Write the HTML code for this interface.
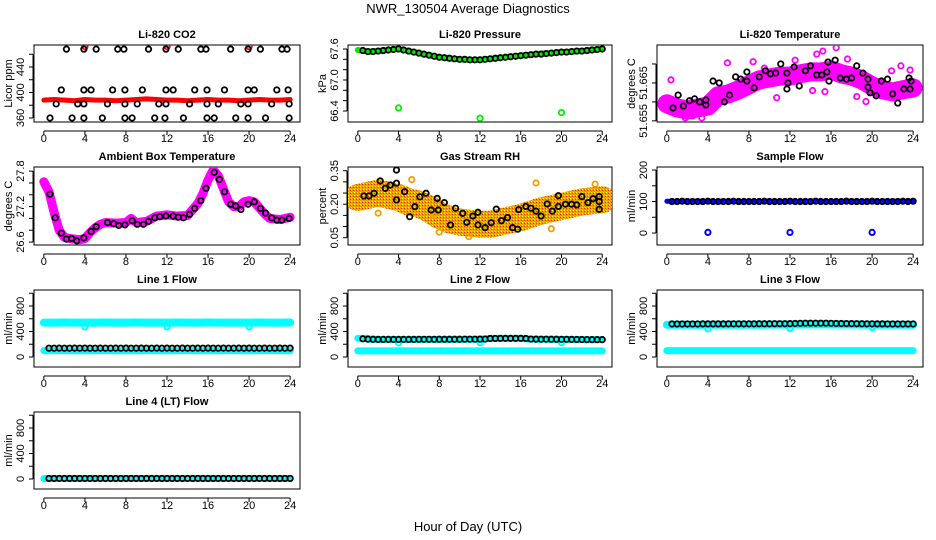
<!DOCTYPE html>
<html><head><meta charset="utf-8"><style>
html,body{margin:0;padding:0;background:#fff;}
svg{display:block;font-family:"Liberation Sans",sans-serif;}
</style></head><body>
<svg id="chart" width="936" height="540" viewBox="0 0 936 540" xmlns="http://www.w3.org/2000/svg">
<defs>
<pattern id="rhpat" width="3" height="3" patternUnits="userSpaceOnUse">
<rect width="3" height="3" fill="#f0a000"/><rect x="0" y="0" width="1" height="1" fill="#ffff00"/><rect x="2" y="1" width="1" height="1" fill="#e03000"/>
</pattern>
</defs>
<rect width="936" height="540" fill="#fff"/>
<text x="468" y="13" text-anchor="middle" font-size="13">NWR_130504  Average Diagnostics</text>
<text x="468" y="531" text-anchor="middle" font-size="13">Hour of Day (UTC)</text>
</svg>
<script>
// ---- data ----
const H25=[0,1,2,3,4,5,6,7,8,9,10,11,12,13,14,15,16,17,18,19,20,21,22,23,24];
const H48=[0.5,1,1.5,2,2.5,3,3.5,4,4.5,5,5.5,6,6.5,7,7.5,8,8.5,9,9.5,10,10.5,11,11.5,12,12.5,13,13.5,14,14.5,15,15.5,16,16.5,17,17.5,18,18.5,19,19.5,20,20.5,21,21.5,22,22.5,23,23.5,24];
const DIP_HOURS=[4,12,20];

// CO2
const co2Red=[388,389,388,387,389,388,388,387,388,389,390,389,388,388,387,388,389,388,388,387,388,389,388,388,389];
const co2RedTop=[472,472,472];
const co2BlackHours=[2.2,3.9,5.1,7.2,7.8,10.2,11.9,13.1,15.3,15.8,18.2,19.9,21.1,23.2,23.7,1.7,3.9,4.6,6.7,7.9,9.6,11.9,12.6,14.7,15.9,17.6,19.9,20.5,22.7,23.8,1.2,3.3,3.9,6.2,7.9,9.1,11.2,11.9,14.2,15.9,17.0,19.2,19.9,22.2,23.9,0.6,2.75,3.9,5.7,7.9,8.6,10.8,11.8,13.6,15.9,16.6,18.7,19.9,21.6,23.9];
const co2Black=[468,468,468,468,468,468,468,468,468,468,468,468,468,468,468,404,404,404,404,404,404,404,404,404,404,404,404,404,404,404,382,382,382,382,382,382,382,382,382,382,382,382,382,382,382,360,360,360,360,360,360,360,360,360,360,360,360,360,360,360];

// Pressure
const presGreen=[67.58,67.55,67.56,67.58,67.60,67.56,67.52,67.48,67.44,67.42,67.40,67.39,67.39,67.41,67.43,67.45,67.47,67.49,67.51,67.52,67.54,67.55,67.56,67.58,67.60];
const presBlack=[67.57,67.55,67.55,67.56,67.57,67.58,67.59,67.60,67.58,67.56,67.54,67.52,67.50,67.48,67.46,67.44,67.43,67.42,67.41,67.40,67.40,67.39,67.39,67.39,67.40,67.41,67.42,67.43,67.44,67.45,67.46,67.47,67.48,67.49,67.50,67.50,67.51,67.52,67.53,67.54,67.54,67.55,67.56,67.56,67.57,67.58,67.59,67.60];
const presGreenOut=[66.46,66.26,66.37];

// Li-820 temperature
const ltMag=[51.6595,51.6584,51.6579,51.6584,51.6589,51.6616,51.6621,51.6632,51.6645,51.6658,51.6663,51.6668,51.6668,51.6674,51.6679,51.6679,51.6684,51.6674,51.6668,51.6658,51.6642,51.6632,51.6626,51.6632,51.6637];
const ltOutHours=[5.9,8.4,10.7,14.2,15.4,15.2,16.5,14.6,17.6,19.4,18.5,22.8,23.7,1.8,3.4,0.4,21.9,2.5,0.8,12.5,9.5];
const ltOut=[51.6703,51.6706,51.6611,51.6630,51.6627,51.6734,51.6743,51.6726,51.6713,51.6601,51.6614,51.6695,51.6684,51.6558,51.6558,51.6658,51.6682,51.6563,51.6574,51.6710,51.6689];
const ltBlackHours=[0.6,1.1,1.6,2.2,2.7,3.2,3.8,3.8,4.5,5.1,5.6,6.1,6.7,7.2,7.8,7.8,8.5,9.0,9.6,10.1,10.6,11.1,11.7,11.7,11.8,12.4,12.9,13.5,14.0,14.6,15.1,15.6,15.7,15.8,16.4,16.9,17.5,18.0,18.5,19.1,19.6,19.6,19.8,20.4,20.9,21.5,22.0,22.5,23.1,23.6,23.7,23.8];
const ltBlack=[51.6584,51.6618,51.6589,51.6603,51.6608,51.6600,51.6605,51.6592,51.6655,51.6650,51.6600,51.6618,51.6666,51.6660,51.6679,51.6655,51.6637,51.6666,51.6682,51.6674,51.6676,51.6700,51.6676,51.6634,51.6650,51.6692,51.6642,51.6682,51.6695,51.6671,51.6671,51.6679,51.6705,51.6655,51.6710,51.6663,51.6660,51.6663,51.6695,51.6676,51.6660,51.6639,51.6624,51.6616,51.6655,51.6660,51.6621,51.6597,51.6634,51.6663,51.6634,51.6655];

// Ambient box temperature
const abMagHours=[0,0.5,1,1.5,2,2.5,3,3.5,4,4.5,5,5.5,6,7,8,8.5,9,10,11,12,13,14,14.5,15,15.5,16,16.5,17,17.5,18,18.5,19,19.5,20,20.5,21,21.5,22,23,24];
const abMag=[27.62,27.45,27.10,26.80,26.68,26.66,26.65,26.64,26.66,26.76,26.84,26.90,26.93,26.92,26.93,27.00,26.93,26.95,27.04,27.06,27.04,27.05,27.15,27.25,27.42,27.65,27.82,27.72,27.50,27.28,27.20,27.20,27.28,27.30,27.28,27.18,27.08,27.00,26.98,27.02];
const abBlackHours=[0.6,1.1,1.7,2.2,2.7,3.2,3.9,4.6,5.1,6.2,6.8,7.3,7.9,8.6,9.1,9.7,10.2,10.8,11.3,11.9,12.6,13.1,13.6,14.2,14.7,15.3,15.8,16.6,17.1,17.6,18.2,18.7,19.2,19.9,20.5,21.1,21.6,22.2,22.7,23.2,23.9];
const abBlack=[27.41,27.01,26.75,26.65,26.66,26.62,26.67,26.78,26.86,26.93,26.91,26.88,26.89,26.96,26.90,26.90,26.95,27.01,27.03,27.04,27.04,27.02,27.01,27.07,27.17,27.30,27.51,27.78,27.66,27.45,27.24,27.21,27.15,27.24,27.28,27.17,27.09,27.01,26.97,26.97,27.00];

// Gas stream RH
const rhBandHours=[0,1,2,3,4,5,6,7,8,9,10,11,12,13,14,15,16,17,18,19,20,21,22,23,24];
const rhBand=[0.23,0.24,0.25,0.24,0.23,0.21,0.20,0.18,0.15,0.13,0.12,0.115,0.11,0.11,0.12,0.13,0.14,0.155,0.17,0.18,0.19,0.20,0.21,0.215,0.22];
const rhBlackHours=[0.6,1.1,1.6,2.2,2.7,3.2,3.8,3.8,3.8,4.6,5.1,5.6,6.1,6.7,7.2,7.8,7.9,8.5,9.1,9.6,10.3,10.7,11.3,11.8,11.8,12.5,13.1,13.6,14.1,14.7,15.2,15.7,15.8,16.5,17.0,17.5,18.0,18.6,19.1,19.7,19.7,20.4,21.0,21.5,22.0,22.6,23.1,23.7,23.7,23.7];
const rhBlack=[0.237,0.237,0.249,0.304,0.271,0.286,0.353,0.294,0.219,0.256,0.144,0.189,0.233,0.249,0.174,0.226,0.174,0.207,0.107,0.182,0.159,0.119,0.147,0.164,0.107,0.095,0.117,0.178,0.126,0.140,0.095,0.088,0.176,0.190,0.182,0.169,0.147,0.201,0.169,0.190,0.238,0.200,0.200,0.197,0.234,0.207,0.225,0.177,0.234,0.212];
const rhOutHours=[5.3,7.5,19.0,17.5,23.3,8.0,10.9,2.0];
const rhOut=[0.31,0.15,0.09,0.295,0.29,0.075,0.055,0.16];

// Sample flow
const sfBlue=[101,100,100,101,100,100,101,100,100,100,101,100,100,100,101,100,100,100,101,100,100,100,101,100,101];
const sfBlack=[100,100,101,100,100,100,100,101,100,100,100,100,101,100,100,100,100,100,101,100,100,100,100,101,100,100,100,100,101,100,100,100,100,100,101,100,100,100,100,101,100,100,100,100,100,101,100,101];
const sfBlueOut=[2,2,2];

// Line flows
const l1Top=[540,540,541,540,539,540,541,540,540,541,540,539,540,541,540,540,541,540,540,539,540,541,540,540,541];
const l1Low=[100,100,101,100,100,100,101,100,100,100,101,100,100,100,101,100,100,100,101,100,100,100,101,100,100];
const l1Dip=[470,470,470];
const l1Black=[138,138,139,138,138,139,138,139,138,138,139,138,138,139,138,139,138,138,139,138,138,139,138,139,138,138,139,138,138,139,138,139,138,138,139,138,138,139,138,139,138,138,139,138,138,139,138,139];

const l2TopHours=[0,0.5,1,1.2,2,3,4,5,6,7,8,9,10,11,12,13,14,15,16,17,18,19,20,21,22,23,24];
const l2Top=[292,292,292,280,276,276,275,276,276,276,277,277,278,278,280,290,292,292,292,280,278,278,276,274,272,272,272];
const l2Low=[95,95,95,95,95,95,95,95,95,95,95,95,95,95,95,95,95,95,95,95,95,95,95,95,95];
const l2Dip=[220,225,225];
const l2Black=[285,280,278,276,276,276,276,276,276,276,276,277,277,277,277,278,278,278,278,278,279,279,279,280,281,290,291,292,292,292,292,292,290,281,280,279,279,278,278,277,277,276,275,274,273,272,272,272];

const l3Top=[505,505,505,504,505,505,505,506,506,506,507,507,508,510,512,512,510,510,509,508,506,506,505,505,505];
const l3Low=[100,100,100,100,100,100,100,100,100,100,100,100,100,100,100,100,100,100,100,100,100,100,100,100,100];
const l3Dip=[440,445,460];
const l3Black=[518,518,518,518,518,518,519,519,519,519,519,520,520,520,520,520,520,521,521,521,522,522,522,523,526,528,530,530,530,530,530,528,526,525,524,523,522,521,520,520,519,519,518,518,518,518,518,518];

const l4Cyan=[8,8,8,8,8,8,8,8,8,8,8,8,8,8,8,8,8,8,8,8,8,8,8,8,8];
const l4Black=[8,8,8,8,8,8,8,8,8,8,8,8,8,8,8,8,8,8,8,8,8,8,8,8,8,8,8,8,8,8,8,8,8,8,8,8,8,8,8,8,8,8,8,8,8,8,8,8];

const X_TICKS=[0,4,8,12,16,20,24];
const FLOW_TICKS=[0,200,400,600,800,1000];
const FLOW_LABELS=[[0,'0'],[400,'400'],[800,'800']];

// ---- layout ----
const NS='http://www.w3.org/2000/svg';
const svg=document.getElementById('chart');
const COLL=[34,348,657], COLR=[300,612,923];
const ROWT=[45,167,290,412], ROWB=[122,245,367,489];
let clipN=0;
function el(tag,attrs,parent){const e=document.createElementNS(NS,tag);for(const k in attrs)e.setAttribute(k,attrs[k]);(parent||svg).appendChild(e);return e;}

function panel(name,col,row,title,ylab,ymin,ymax,yticks,ylabels){
  const L=COLL[col],R=COLR[col],T=ROWT[row],B=ROWB[row];
  const g=el('g',{});
  
  
  const sx=v=>L+(v+0.96)/25.92*(R-L);
  const sy=v=>B-(v-ymin)/(ymax-ymin)*(B-T);
  const t=el('text',{x:(L+R)/2,y:T-7,'text-anchor':'middle','font-size':11,'font-weight':'bold'},g);
  t.textContent=title;
  
  
  const yl=el('text',{transform:`translate(${L-22},${(T+B)/2}) rotate(-90)`,'text-anchor':'middle','font-size':11},g);
  yl.textContent=ylab;
  
  
  const xa=el('g',{stroke:'#000','stroke-width':1},g);
  
  
  el('line',{x1:sx(X_TICKS[0]),x2:sx(X_TICKS[X_TICKS.length-1]),y1:B+9,y2:B+9},xa);
  X_TICKS.forEach(v=>{
    el('line',{x1:sx(v),x2:sx(v),y1:B+9,y2:B+13},xa);
    const tx=el('text',{x:sx(v),y:B+20,'text-anchor':'middle','font-size':11,stroke:'none',fill:'#000'},xa);
    tx.textContent=String(v);
  });
  const ya=el('g',{stroke:'#000','stroke-width':1},g);
  
  
  el('line',{x1:L-1,x2:L-1,y1:sy(yticks[0]),y2:sy(yticks[yticks.length-1])},ya);
  yticks.forEach(v=>{el('line',{x1:L-5,x2:L-1,y1:sy(v),y2:sy(v)},ya);});
  ylabels.forEach(([v,s])=>{
    const tx=el('text',{transform:`translate(${L-10},${sy(v)}) rotate(-90)`,'text-anchor':'middle','font-size':11,stroke:'none',fill:'#000'},ya);
    tx.textContent=s;
  });
  const box=el('rect',{x:L,y:T,width:R-L,height:B-T,fill:'none',stroke:'#000','stroke-width':1},g);
  
  
  const cid='clip'+(clipN++);
  const cp=el('clipPath',{id:cid},g);
  el('rect',{x:L,y:T,width:R-L,height:B-T},cp);
  const plot=el('g',{'clip-path':`url(#${cid})`},g);
  
  
  return {sx,sy,plot};
}
function band(p,xs,ys,color,w,name){
  const pl=el('polyline',{points:xs.map((x,i)=>p.sx(x)+','+p.sy(ys[i])).join(' '),fill:'none',stroke:color,'stroke-width':w,'stroke-linejoin':'round','stroke-linecap':'round'},p.plot);
  
  
}
function pts(p,xs,ys,color,name,r,sw){
  const g=el('g',{fill:'none',stroke:color,'stroke-width':sw||1.8},p.plot);
  
  
  xs.forEach((x,i)=>{el('circle',{cx:p.sx(x),cy:p.sy(ys[i]),r:r||2.7},g);});
}

let p=panel('co2',0,0,'Li-820 CO2','Licor ppm',353.7,474.5,[360,380,400,420,440,460],[[360,'360'],[400,'400'],[440,'440']]);
band(p,H25,co2Red,'#ff0000',5,'co2-red-series');
pts(p,DIP_HOURS,co2RedTop,'#ff0000','co2-red-top-points');
pts(p,co2BlackHours,co2Black,'#000','co2-black-points');

p=panel('pressure',1,0,'Li-820 Pressure','kPa',66.187,67.677,[66.4,66.6,66.8,67.0,67.2,67.4,67.6],[[66.4,'66.4'],[67.0,'67.0'],[67.6,'67.6']]);
band(p,H25,presGreen,'#00ee00',6,'pressure-green-series');
pts(p,DIP_HOURS,presGreenOut,'#00ee00','pressure-green-outliers');
pts(p,H48,presBlack,'#000','pressure-black-points');

p=panel('li820-temp',2,0,'Li-820 Temperature','degrees C',51.6547,51.675,[51.655,51.660,51.665,51.670],[[51.655,'51.655'],[51.665,'51.665']]);
band(p,H25,ltMag,'#ff00ff',19,'li820-temp-magenta-series');
pts(p,ltOutHours,ltOut,'#ff00ff','li820-temp-magenta-outliers');
pts(p,ltBlackHours,ltBlack,'#000','li820-temp-black-points');

p=panel('ambient',0,1,'Ambient Box Temperature','degrees C',26.55,27.87,[26.6,26.8,27.0,27.2,27.4,27.6,27.8],[[26.6,'26.6'],[27.2,'27.2'],[27.8,'27.8']]);
band(p,abMagHours,abMag,'#ff00ff',9,'ambient-magenta-series');
pts(p,abBlackHours,abBlack,'#000','ambient-black-points');

p=panel('rh',1,1,'Gas Stream RH','percent',0.0173,0.3666,[0.05,0.10,0.15,0.20,0.25,0.30,0.35],[[0.05,'0.05'],[0.20,'0.20'],[0.35,'0.35']]);
band(p,rhBandHours,rhBand,'url(#rhpat)',27,'rh-orange-series');
pts(p,rhOutHours,rhOut,'#f0a000','rh-orange-outliers');
pts(p,rhBlackHours,rhBlack,'#000','rh-black-points');

p=panel('sample-flow',2,1,'Sample Flow','ml/min',-38,209.6,[0,50,100,150,200],[[0,'0'],[100,'100'],[200,'200']]);
band(p,H25,sfBlue,'#0000ff',5,'sample-flow-blue-series');
pts(p,DIP_HOURS,sfBlueOut,'#0000ff','sample-flow-blue-outliers',2.6,2);
pts(p,H48,sfBlack,'#000','sample-flow-black-points');

p=panel('line1-flow',0,2,'Line 1 Flow','ml/min',-157,1051,FLOW_TICKS,FLOW_LABELS);
band(p,H25,l1Top,'#00ffff',8,'line1-cyan-top-series');
pts(p,DIP_HOURS,l1Dip,'#00ffff','line1-cyan-dips',2.6,2);
band(p,H25,l1Low,'#00ffff',7,'line1-cyan-low-series');
pts(p,H48,l1Black,'#000','line1-black-points');

p=panel('line2-flow',1,2,'Line 2 Flow','ml/min',-157,1051,FLOW_TICKS,FLOW_LABELS);
band(p,l2TopHours,l2Top,'#00ffff',7,'line2-cyan-top-series');
pts(p,DIP_HOURS,l2Dip,'#00ffff','line2-cyan-dips',2.6,2);
band(p,H25,l2Low,'#00ffff',7,'line2-cyan-low-series');
pts(p,H48,l2Black,'#000','line2-black-points');

p=panel('line3-flow',2,2,'Line 3 Flow','ml/min',-157,1051,FLOW_TICKS,FLOW_LABELS);
band(p,H25,l3Top,'#00ffff',8,'line3-cyan-top-series');
pts(p,DIP_HOURS,l3Dip,'#00ffff','line3-cyan-dips',2.6,2);
band(p,H25,l3Low,'#00ffff',7,'line3-cyan-low-series');
pts(p,H48,l3Black,'#000','line3-black-points');

p=panel('line4-flow',0,3,'Line 4 (LT) Flow','ml/min',-157,1051,FLOW_TICKS,FLOW_LABELS);
band(p,H25,l4Cyan,'#00ffff',7,'line4-cyan-series');
pts(p,H48,l4Black,'#000','line4-black-points');
</script>
</body></html>
